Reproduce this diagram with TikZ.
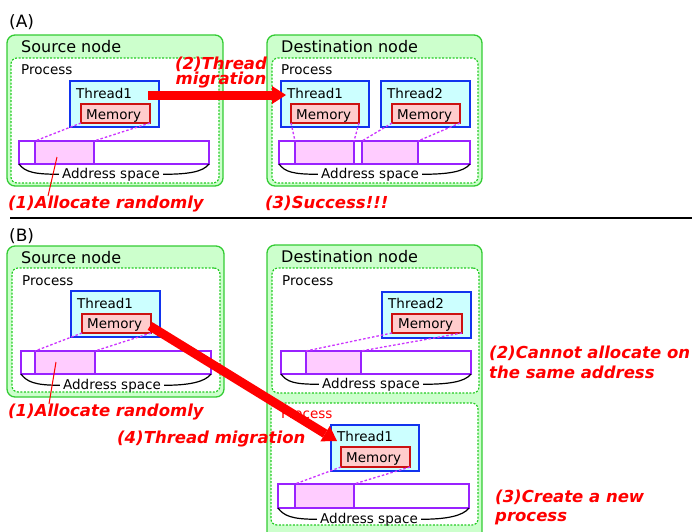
\documentclass[tikz,border=0pt]{standalone}
\usepackage{fontspec}
\setmainfont{DejaVu Sans}
\usetikzlibrary{arrows.meta,calc}
\definecolor{ngreenfill}{HTML}{CCFFCC}
\definecolor{ngreen}{HTML}{33CC33}
\definecolor{pgreen}{HTML}{22CC22}
\definecolor{thfill}{HTML}{CCFFFF}
\definecolor{thblue}{HTML}{1133EE}
\definecolor{memfill}{HTML}{FFCCCC}
\definecolor{memred}{HTML}{CC1111}
\definecolor{aspurple}{HTML}{9922FF}
\definecolor{segfill}{HTML}{FFCCFF}
\definecolor{dashmag}{HTML}{CC33FF}
\definecolor{lblred}{HTML}{FF0000}
\newcommand\bxnode[6]{\node[#1, anchor=north west, minimum width={(#5-#3)*1pt}, minimum height={(#6-#4)*1pt}] (#2) at (#3,#4) {};}
\tikzset{
  boxbase/.style={inner sep=0pt, outer sep=0pt},
  machine/.style={boxbase, draw=ngreen, fill=ngreenfill, line width=1.3pt, rounded corners=8pt},
  procbox/.style={boxbase, draw=pgreen, fill=white, line width=1.2pt, dash pattern=on 2pt off 1.5pt, rounded corners=6pt},
  threadbox/.style={boxbase, draw=thblue, fill=thfill, line width=1.3pt},
  membox/.style={boxbase, draw=memred, fill=memfill, line width=1.2pt},
  asbar/.style={boxbase, draw=aspurple, fill=white, line width=1.3pt},
  asseg/.style={boxbase, draw=aspurple, fill=segfill, line width=1.3pt},
  maplink/.style={draw=dashmag, line width=1.3pt, dash pattern=on 2.5pt off 2pt},
  bracecurve/.style={draw=black, line width=1.2pt},
  titletxt/.style={font=\fontsize{16}{18}\selectfont, inner sep=0pt, anchor=base west},
  lbltxt/.style={font=\fontsize{13.5}{16}\selectfont, inner sep=0pt, anchor=base west},
  astxt/.style={font=\fontsize{13.5}{16}\selectfont, inner ysep=0pt, inner xsep=3pt, anchor=base},
  redlbl/.style={text=lblred, font=\fontsize{16.5}{18}\selectfont\bfseries\itshape, inner sep=0pt, anchor=base west},
  callout/.style={draw=lblred, line width=1pt},
  bigarrow/.style={draw=lblred, line width=9pt, -{Triangle[length=14pt,width=18pt,line width=0pt]}}
}
\begin{document}
\begin{tikzpicture}[x=1pt,y=-1pt]
\useasboundingbox (0,0) rectangle (692,531);
\clip (0,0) rectangle (692,531);

% ================= (A) =================
\node[titletxt, font=\fontsize{17}{18}\selectfont] (labA) at (9,27) {(A)};

% Source node A
\bxnode{machine}{srcA}{7}{35}{223}{186}
\bxnode{procbox}{srcAp}{11}{58}{219}{183}
\node[titletxt] (srcAt) at (21,52.5) {Source node};
\node[lbltxt] (srcApt) at (21,74.5) {Process};
\bxnode{threadbox}{srcAth}{70}{81}{159}{127}
\node[lbltxt] (srcAtht) at (76,98) {Thread1};
\bxnode{membox}{srcAm}{81}{104}{150}{123}
\node[lbltxt] (srcAmt) at (86,119.5) {Memory};
\bxnode{asbar}{srcAbar}{19}{141}{209}{164}
\bxnode{asseg}{srcAseg}{35}{141}{94}{164}
\draw[maplink] (srcAm.south west) -- (srcAseg.north west);
\draw[maplink] (srcAm.south east) -- (srcAseg.north east);
\node[astxt] (srcAas) at (111,178) {Address space};
\draw[bracecurve] (srcAbar.south west) .. controls +(6,8) and +(-25,0) .. (srcAas.west);
\draw[bracecurve] (srcAas.east) .. controls +(25,0) and +(-6,8) .. (srcAbar.south east);
\coordinate (c1a) at (57,157);
\coordinate (c1b) at (48,196);
\draw[callout] (c1a) -- (c1b);
\node[redlbl] (r1a) at (8,208) {(1)Allocate randomly};

% Destination node A
\bxnode{machine}{dstA}{267}{35}{482}{186}
\bxnode{procbox}{dstAp}{272}{58}{478}{183}
\node[titletxt] (dstAt) at (281,52.5) {Destination node};
\node[lbltxt] (dstApt) at (281,74.5) {Process};
\bxnode{threadbox}{dstAth1}{281}{81}{369}{127}
\node[lbltxt] (dstAth1t) at (287,98) {Thread1};
\bxnode{membox}{dstAm1}{291}{104}{359}{123}
\node[lbltxt] (dstAm1t) at (296,119.5) {Memory};
\bxnode{threadbox}{dstAth2}{381}{81}{470}{127}
\node[lbltxt] (dstAth2t) at (387,98) {Thread2};
\bxnode{membox}{dstAm2}{392}{104}{460}{123}
\node[lbltxt] (dstAm2t) at (397,119.5) {Memory};
\bxnode{asbar}{dstAbar}{279}{141}{470}{164}
\bxnode{asseg}{dstAseg1}{295}{141}{354}{164}
\bxnode{asseg}{dstAseg2}{362}{141}{418}{164}
\draw[maplink] (dstAm1.south west) -- (dstAseg1.north west);
\draw[maplink] (dstAm1.south east) -- (dstAseg1.north east);
\draw[maplink] (dstAm2.south west) -- (dstAseg2.north west);
\draw[maplink] (dstAm2.south east) -- (dstAseg2.north east);
\node[astxt] (dstAas) at (370,178) {Address space};
\draw[bracecurve] (dstAbar.south west) .. controls +(6,8) and +(-25,0) .. (dstAas.west);
\draw[bracecurve] (dstAas.east) .. controls +(25,0) and +(-6,8) .. (dstAbar.south east);
\node[redlbl] (r3a) at (265,208) {(3)Success!!!};

% Migration arrow A
\coordinate (mA1) at (148,95);
\coordinate (mA2) at (286,95);
\draw[bigarrow] (mA1) -- (mA2);
\node[redlbl, anchor=center, align=center, font=\fontsize{16.5}{14.5}\selectfont\bfseries\itshape] (r2a) at (221,72.5) {(2)Thread\\migration};

% separator
\coordinate (sepL) at (10,218);
\coordinate (sepR) at (692,218);
\draw[line width=1.5pt] (sepL) -- (sepR);

% ================= (B) =================
\node[titletxt, font=\fontsize{17}{18}\selectfont] (labB) at (9,241) {(B)};

% Source node B
\bxnode{machine}{srcB}{7}{246}{224}{397}
\bxnode{procbox}{srcBp}{12}{268}{220}{392}
\node[titletxt] (srcBt) at (21,263) {Source node};
\node[lbltxt] (srcBpt) at (22,285) {Process};
\bxnode{threadbox}{srcBth}{71}{291}{160}{337}
\node[lbltxt] (srcBtht) at (77,308) {Thread1};
\bxnode{membox}{srcBm}{82}{314}{151}{333}
\node[lbltxt] (srcBmt) at (87,328.5) {Memory};
\bxnode{asbar}{srcBbar}{21}{351}{211}{374}
\bxnode{asseg}{srcBseg}{35}{351}{95}{374}
\draw[maplink] (srcBm.south west) -- (srcBseg.north west);
\draw[maplink] (srcBm.south east) -- (srcBseg.north east);
\node[astxt] (srcBas) at (112,389) {Address space};
\draw[bracecurve] (srcBbar.south west) .. controls +(6,8) and +(-25,0) .. (srcBas.west);
\draw[bracecurve] (srcBas.east) .. controls +(25,0) and +(-6,8) .. (srcBbar.south east);
\coordinate (c1c) at (56,362);
\coordinate (c1d) at (49,404);
\draw[callout] (c1c) -- (c1d);
\node[redlbl] (r1b) at (8,416.5) {(1)Allocate randomly};

% Destination node B
\bxnode{machine}{dstB}{267}{245}{482}{545}
\bxnode{procbox}{dstBp1}{272}{268}{479}{393}
\node[titletxt] (dstBt) at (281,262.5) {Destination node};
\node[lbltxt] (dstBp1t) at (282,285) {Process};
\bxnode{threadbox}{dstBth2}{382}{292}{471}{338}
\node[lbltxt] (dstBth2t) at (388,308) {Thread2};
\bxnode{membox}{dstBm2}{392}{314}{462}{333}
\node[lbltxt] (dstBm2t) at (398,328.5) {Memory};
\bxnode{asbar}{dstBbar1}{281}{351}{471}{374}
\bxnode{asseg}{dstBseg1}{306}{351}{361}{374}
\draw[maplink] (dstBm2.south west) -- (dstBseg1.north west);
\draw[maplink] (dstBm2.south east) -- (dstBseg1.north east);
\node[astxt] (dstBas1) at (371,388) {Address space};
\draw[bracecurve] (dstBbar1.south west) .. controls +(6,8) and +(-25,0) .. (dstBas1.west);
\draw[bracecurve] (dstBas1.east) .. controls +(25,0) and +(-6,8) .. (dstBbar1.south east);

\bxnode{procbox}{dstBp2}{271}{403}{478}{525}
\node[lbltxt, text=lblred] (dstBp2t) at (281,418) {Process};
\bxnode{threadbox}{dstBth1}{331}{425}{419}{471}
\node[lbltxt] (dstBth1t) at (337,441.7) {Thread1};
\bxnode{membox}{dstBm1}{341}{447}{410}{467}
\node[lbltxt] (dstBm1t) at (346,462) {Memory};
\bxnode{asbar}{dstBbar2}{278}{484}{469}{508}
\bxnode{asseg}{dstBseg2}{295}{484}{354}{508}
\draw[maplink] (dstBm1.south west) -- (dstBseg2.north west);
\draw[maplink] (dstBm1.south east) -- (dstBseg2.north east);
\node[astxt] (dstBas2) at (369,523) {Address space};
\draw[bracecurve] (dstBbar2.south west) .. controls +(6,8) and +(-25,0) .. (dstBas2.west);
\draw[bracecurve] (dstBas2.east) .. controls +(25,0) and +(-6,8) .. (dstBbar2.south east);

% Migration arrow B
\coordinate (mB1) at (150,326);
\coordinate (mB2) at (337,441);
\draw[bigarrow] (mB1) -- (mB2);
\node[redlbl] (r4b) at (117,443) {(4)Thread migration};

\node[redlbl] (r2b1) at (489,358) {(2)Cannot allocate on};
\node[redlbl] (r2b2) at (489,378) {the same address};
\node[redlbl] (r3b1) at (495,502) {(3)Create a new};
\node[redlbl] (r3b2) at (495,521) {process};
\end{tikzpicture}
\end{document}
